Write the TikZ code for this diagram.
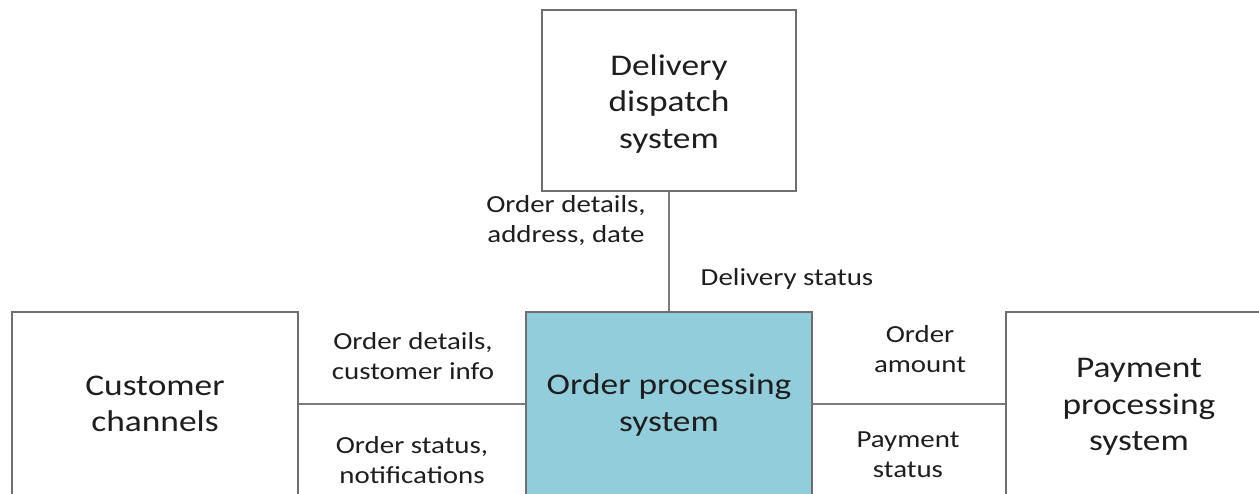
\documentclass[tikz,border=0pt]{standalone}
\usepackage{fontspec}
\setmainfont[FakeStretch=1.18]{Carlito}
\definecolor{boxline}{HTML}{6E6E6E}
\definecolor{wire}{HTML}{7C7C7C}
\definecolor{core}{HTML}{92CDDC}
\definecolor{ink}{HTML}{1E1E1E}
\begin{document}
\begin{tikzpicture}[x=1pt,y=-1pt,
  sysbox/.style={draw=boxline,line width=2pt,fill=white,rectangle,inner sep=0pt},
  systext/.style={align=center,text=ink,inner sep=0pt,font=\fontsize{30}{36.5}\selectfont},
  flowtext/.style={align=center,text=ink,inner sep=0pt,font=\fontsize{24.5}{30}\selectfont},
  wireline/.style={draw=wire,line width=1.6pt}]
\useasboundingbox (0,0) rectangle (1259,493);
\clip (0,0) rectangle (1259,493);

% systems
\node[sysbox,minimum width=254pt,minimum height=181pt] (del) at (669,100.5) {};
\node[sysbox,minimum width=286pt,minimum height=184pt] (cust) at (155,404) {};
\node[sysbox,fill=core,minimum width=286pt,minimum height=184pt] (ord) at (669,404) {};
\node[sysbox,minimum width=266pt,minimum height=184pt] (pay) at (1139,404) {};

% system names
\node[systext] (del-name) at (669,103.5) {Delivery\\dispatch\\system};
\node[systext] (cust-name) at (155,404) {Customer\\channels};
\node[systext] (ord-name) at (669,405) {Order processing\\system};
\node[systext] (pay-name) at (1139,407) {Payment\\processing\\system};

% data flows
\draw[wireline] (del.south) -- (ord.north);
\draw[wireline] (cust.east) -- (ord.west);
\draw[wireline] (ord.east) -- (pay.west);

% flow labels
\node[flowtext] (l1) at (566,221) {Order details,\\address, date};
\node[flowtext] (l2) at (787,279) {Delivery status};
\node[flowtext] (l3) at (413,356) {Order details,\\customer info};
\node[flowtext] (l4) at (412,460) {Order status,\\notifications};
\node[flowtext] (l5) at (920,349) {Order\\amount};
\node[flowtext] (l6) at (908,455) {Payment\\status};
\end{tikzpicture}
\end{document}
